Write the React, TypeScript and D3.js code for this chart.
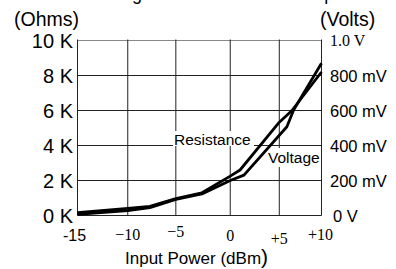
import React from "react";
import * as d3 from "d3";

// ---- data ----
const xTicks = [-15, -10, -5, 0, 5, 10];
const xTickLabels = ["-15", "\u221210", "\u22125", "0", "+5", "+10"];
const leftTicks = [0, 2, 4, 6, 8, 10];
const leftTickLabels = ["0 K", "2 K", "4 K", "6 K", "8 K", "10 K"];
const rightTicks = [0, 200, 400, 600, 800, 1000];
const rightTickLabels = ["0 V", "200 mV", "400 mV", "600 mV", "800 mV", "1.0 V"];

// Resistance (kOhm) vs input power (dBm)
const resPower = [-15, -10, -7.7, -5, -2.6, 0, 1.0, 4.9, 6.5, 10];
const resValue = [0.17, 0.41, 0.52, 0.97, 1.3, 2.25, 2.6, 5.27, 6.0, 8.2];
// Voltage (mV) vs input power (dBm)
const voltPower = [-15, -10, -7.7, -5, -2.6, 0, 1.4, 5.9, 6.7, 10];
const voltValue = [6, 28, 45, 92, 123, 200, 231, 507, 603, 870];

// ---- layout ----
const W = 396, H = 269;
const L = 77.5, R = 321.5, T = 40.5, B = 215.5;
// hand-drawn uneven gridline spacing (fraction of plot width)
const xFrac = [0, 0.206, 0.403, 0.626, 0.827, 1];

export default function App() {
  const x = d3.scaleLinear().domain(xTicks).range(xFrac.map((f) => L + f * (R - L)));
  const yL = d3.scaleLinear().domain([0, 10]).range([B, T]);
  const yR = d3.scaleLinear().domain([0, 1000]).range([B, T]);

  const resLine = d3.line<number>().x((_, i) => x(resPower[i])).y((d) => yL(d));
  const voltLine = d3.line<number>().x((_, i) => x(voltPower[i])).y((d) => yR(d));

  const sans = "'Liberation Sans', Arial, sans-serif";
  const serif = "'Liberation Serif', 'Times New Roman', serif";
  const xLabelDy = [0, -1, -4, 0, 3, -1];
  const xLabelFont = [sans, serif, serif, serif, serif, serif];

  return (
    <svg width={W} height={H} style={{ position: "absolute", left: 0, top: 0, background: "#fff" }}>
      <rect x={0} y={0} width={W} height={H} fill="#fff" />
      {/* cut-off title */}
      <text x={19} y={-0.5} fontFamily={sans} fontSize={18} fill="#000">
        Detector Voltage and Resistance vs Input Power
      </text>
      {/* axis titles */}
      <text x={14} y={26} fontFamily={sans} fontSize={19.5} fill="#000">(Ohms)</text>
      <text x={320} y={26} fontFamily={sans} fontSize={19.5} fill="#000">(Volts)</text>

      {/* horizontal grid */}
      {leftTicks.map((t, i) => (
        <line key={"h" + i} x1={L} x2={R} y1={yL(t)} y2={yL(t)}
          stroke={t === 10 ? "#888" : "#222"} strokeWidth={1} />
      ))}
      {/* vertical grid */}
      {xTicks.map((t, i) => (
        <line key={"v" + i} x1={x(t)} x2={x(t)} y1={T - 1} y2={B}
          stroke="#222" strokeWidth={1} />
      ))}

      {/* label backgrounds */}
      <rect x={173} y={131} width={81} height={15} fill="#fff" />
      <rect x={266} y={148} width={54} height={19} fill="#fff" />

      {/* curves */}
      <path d={resLine(resValue) || ""} fill="none" stroke="#000" strokeWidth={2.8} strokeLinejoin="round" />
      <path d={voltLine(voltValue) || ""} fill="none" stroke="#000" strokeWidth={2.8} strokeLinejoin="round" />

      {/* curve labels */}
      <text x={174} y={145} fontFamily={sans} fontSize={15.5} fill="#000">Resistance</text>
      <text x={268} y={163} fontFamily={sans} fontSize={15.5} fill="#000">Voltage</text>

      {/* left tick labels */}
      {leftTicks.map((t, i) => (
        <text key={"l" + i} x={73} y={yL(t) + 7.5} textAnchor="end" fontFamily={sans} fontSize={20} fill="#000">
          {leftTickLabels[i]}
        </text>
      ))}
      {/* right tick labels */}
      {rightTicks.map((t, i) => (
        <text key={"r" + i} x={t === 0 ? 333 : 330} y={yR(t) + (t === 1000 ? 5 : 6)}
          fontFamily={t === 1000 ? serif : sans} fontSize={t === 1000 ? 16 : 16.5} fill="#000">
          {rightTickLabels[i]}
        </text>
      ))}
      {/* x tick labels */}
      {xTicks.map((t, i) => (
        <text key={"x" + i} x={x(t) + (i === 0 ? -3 : i === 5 ? -1 : 0)} y={241 + xLabelDy[i]} textAnchor="middle"
          fontFamily={xLabelFont[i]} fontSize={16} fill="#000">
          {xTickLabels[i]}
        </text>
      ))}
      {/* x axis title */}
      <text x={125} y={264} fontFamily={sans} fontSize={17} fill="#000">
        Input Power (dBm<tspan fontSize={21}>)</tspan>
      </text>
    </svg>
  );
}
